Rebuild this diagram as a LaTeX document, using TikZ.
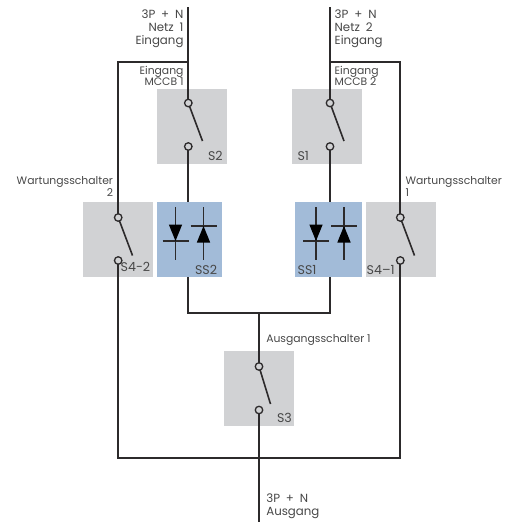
\documentclass[tikz,border=0pt]{standalone}
\usepackage{fontspec}
\setmainfont{Poppins}
\definecolor{boxgray}{HTML}{D1D2D4}
\definecolor{boxblue}{HTML}{A2BBD8}
\definecolor{wire}{HTML}{2C2A2B}
\definecolor{txt}{HTML}{474747}
\newcommand{\iofont}{\fontsize{11.8pt}{13pt}\selectfont\setlength{\spaceskip}{0.5em}}
\tikzset{
 swbox/.style={draw=none,fill=boxgray,minimum width=70pt,minimum height=75pt,inner sep=0pt,outer sep=0pt},
 ssbox/.style={draw=none,fill=boxblue,minimum height=75pt,inner sep=0pt,outer sep=0pt},
 term/.style={circle,draw=wire,line width=1.3pt,fill=none,minimum size=7.5pt,inner sep=0pt,outer sep=0pt},
 wirethick/.style={draw=wire,line width=2pt,line cap=butt},
 wirearm/.style={draw=wire,line width=1.6pt},
 diode/.style={draw=wire,line width=1.1pt},
 dtri/.style={fill=black,draw=none},
 lbl/.style={text=txt,font=\fontsize{10.8pt}{13pt}\selectfont,inner sep=0pt,outer sep=0pt},
 lbltight/.style={text=txt,font=\fontsize{10.8pt}{11.5pt}\selectfont,inner sep=0pt,outer sep=0pt},
 lblio/.style={text=txt,font=\iofont,inner sep=0pt,outer sep=0pt},
 lbltag/.style={text=txt,font=\fontsize{12.6pt}{13pt}\selectfont,inner sep=0pt,outer sep=0pt},
}
\begin{document}
\begin{tikzpicture}[x=1pt,y=-1pt]
\useasboundingbox (0,0) rectangle (515,522);
% boxes
\node[swbox] (bS2) at (192,126.5) {};
\node[swbox] (bS1) at (327,126.5) {};
\node[swbox] (bS42) at (118,239.5) {};
\node[swbox] (bS41) at (401,239.5) {};
\node[swbox] (bS3) at (259,388.5) {};
\node[ssbox,minimum width=65pt] (bSS2) at (189.5,239.5) {};
\node[ssbox,minimum width=67pt] (bSS1) at (328.5,239.5) {};
% terminals
\node[term] (s2a) at (188.3,103) {};
\node[term] (s2b) at (188.3,146.5) {};
\node[term] (s1a) at (330,103) {};
\node[term] (s1b) at (330,146.5) {};
\node[term] (s42a) at (118.2,217.5) {};
\node[term] (s42b) at (118.2,260.5) {};
\node[term] (s41a) at (400.3,217.5) {};
\node[term] (s41b) at (400.3,260.5) {};
\node[term] (s3a) at (259,366.5) {};
\node[term] (s3b) at (259,410) {};
% free ends and junctions
\coordinate (in1) at (188.3,7);
\coordinate (in2) at (330,7);
\coordinate (j1) at (188.3,61.5);
\coordinate (j2) at (330,61.5);
\coordinate (c1) at (118.2,61.5);
\coordinate (c2) at (400.3,61.5);
\coordinate (b1) at (118.2,457.5);
\coordinate (b2) at (400.3,457.5);
\coordinate (out) at (259,522);
\coordinate (m1) at (188.3,312.5);
\coordinate (m2) at (330,312.5);
\coordinate (m3) at (259,312.5);
\coordinate (a2) at (202.5,141);
\coordinate (a1) at (344,141);
\coordinate (a42) at (132.5,255.5);
\coordinate (a41) at (414.5,255.5);
\coordinate (a3) at (270.5,404);
% wires
\draw[wirethick] (in1) -- (s2a);
\draw[wirethick] (in2) -- (s1a);
\draw[wirethick,line join=miter] (j1) -- (c1) -- (s42a);
\draw[wirethick,line join=miter] (j2) -- (c2) -- (s41a);
\draw[wirethick] (s2b) -- (bSS2.north -| s2b);
\draw[wirethick] (s1b) -- (bSS1.north -| s1b);
\draw[wirethick,line join=miter] (bSS2.south -| s2b) -- (m1) -- (m2) -- (bSS1.south -| s1b);
\draw[wirethick] (m3) -- (s3a);
\draw[wirethick] (s3b) -- (out);
\draw[wirethick,line join=miter] (s42b) -- (b1) -- (b2) -- (s41b);
% switch arms
\draw[wirearm] (s2a) -- (a2);
\draw[wirearm] (s1a) -- (a1);
\draw[wirearm] (s42a) -- (a42);
\draw[wirearm] (s41a) -- (a41);
\draw[wirearm] (s3a) -- (a3);
% diodes
\foreach \xl/\xr in {175.5/203.5,316/344}{
 \draw[diode] (\xl,207) -- (\xl,260);
 \draw[diode] (\xl-13,241) -- (\xl+13,241);
 \fill[dtri] (\xl-6.7,224.5) -- (\xl+6.7,224.5) -- (\xl,241) -- cycle;
 \draw[diode] (\xr,207) -- (\xr,260);
 \draw[diode] (\xr-13,226) -- (\xr+13,226);
 \fill[dtri] (\xr-6.7,242.5) -- (\xr+6.7,242.5) -- (\xr,226) -- cycle;
}
% labels
\node[lblio,align=right,anchor=north east] (t1) at (183.5,9.6) {3P + N\\Netz 1\\Eingang};
\node[lblio,align=left,anchor=north west] (t2) at (334.7,9.6) {3P + N\\Netz 2\\Eingang};
\node[lbltight,align=right,anchor=north east] (t3) at (183.5,66) {Eingang\\MCCB 1};
\node[lbltight,align=left,anchor=north west] (t4) at (334.7,66) {Eingang\\MCCB 2};
\node[lbltight,align=right,anchor=north east] (t5) at (113,177) {Wartungsschalter\\2};
\node[lbltight,align=left,anchor=north west] (t6) at (405.6,177) {Wartungsschalter\\1};
\node[lbltag,anchor=base west] (t7) at (208,160) {S2};
\node[lbltag,anchor=base west] (t8) at (297.5,160) {S1};
\node[lbltag,anchor=base west] (t9) at (120.7,271) {S4-2};
\node[lbltag,anchor=base west] (t10) at (195,274) {SS2};
\node[lbltag,anchor=base west] (t11) at (297.7,274) {SS1};
\node[lbltag,anchor=base west] (t12) at (366.7,274) {S4–1};
\node[lbl,anchor=base west] (t13) at (266.3,342) {Ausgangsschalter 1};
\node[lbltag,anchor=base west] (t14) at (277,422.7) {S3};
\node[lblio,align=left,anchor=north west] (t15) at (266.3,493.3) {3P + N\\Ausgang};
\end{tikzpicture}
\end{document}
